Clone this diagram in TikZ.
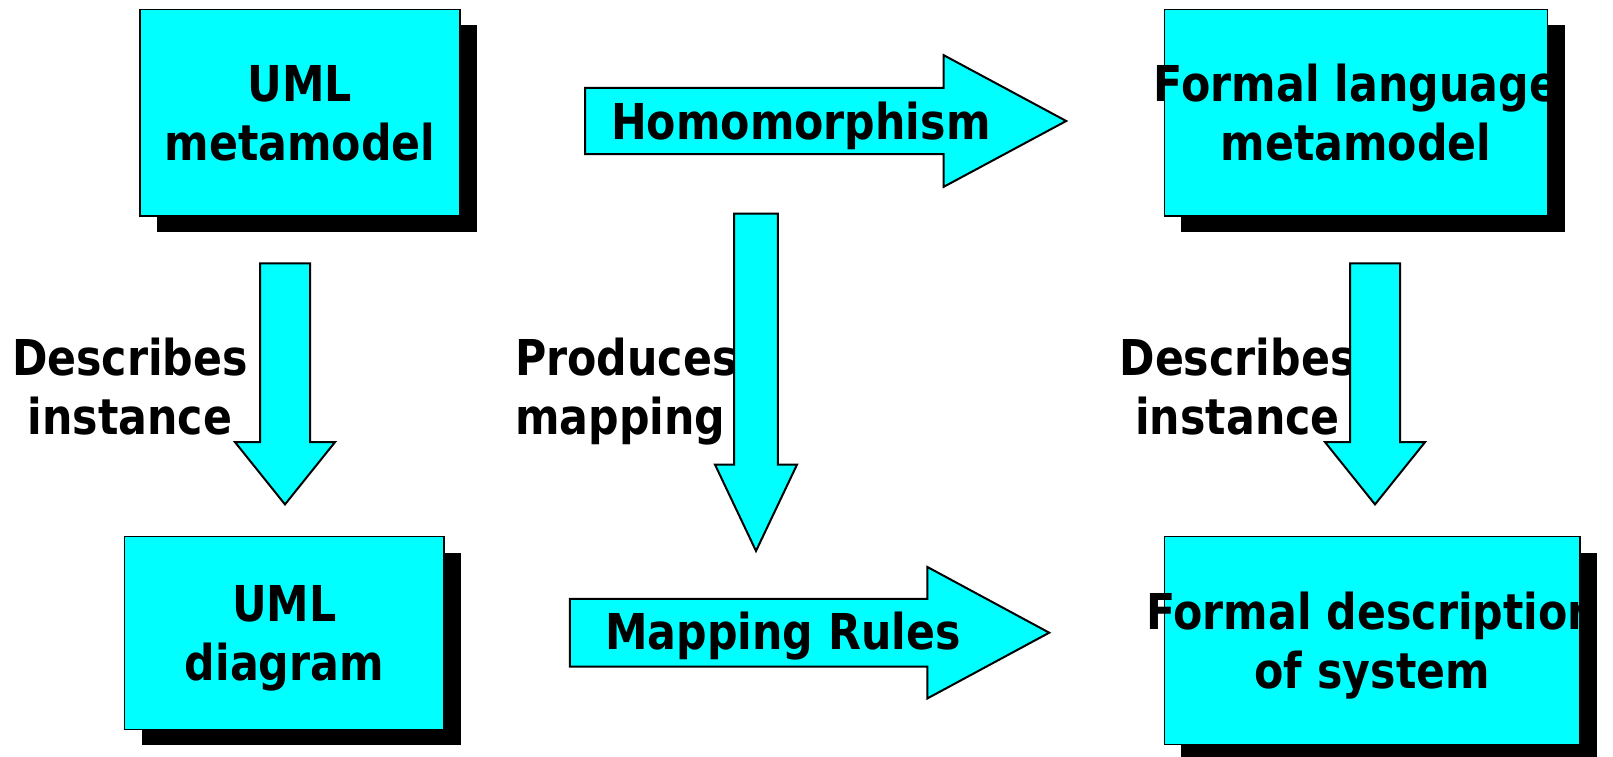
\documentclass[tikz,border=0pt]{standalone}
\usepackage{fontspec}
\newfontfamily\diafont{DejaVu Sans}[FakeStretch=0.865]
\usetikzlibrary{shapes.arrows,shadows}
\definecolor{boxcyan}{RGB}{0,255,255}

\begin{document}
\begin{tikzpicture}[
    x=1pt, y=-1pt,
    box/.style={
        draw,
        line width=1.3pt,
        fill=boxcyan,
        drop shadow={shadow xshift=17pt, shadow yshift=-16pt, fill=black, opacity=1},
        inner sep=0pt,
        align=center,
        text depth=0pt,
        font=\diafont\bfseries\fontsize{49.4}{59}\selectfont
    },
    txt/.style={
        inner sep=0pt,
        align=center,
        text depth=0pt,
        font=\diafont\bfseries\fontsize{49.4}{59}\selectfont
    },
    bigarrow/.style={single arrow, draw, line width=2pt, fill=boxcyan,
        anchor=tip},
    downarrow/.style={bigarrow, shape border rotate=270}
]
\useasboundingbox (0,0) rectangle (1613,757);

% Riga 0: metamodelli
\node[box, minimum width=320pt, minimum height=206.7pt] (umlmeta) at (300,112.7) {UML\\metamodel};
\node[box, minimum width=383.4pt, minimum height=206.7pt] (flmeta) at (1356,112.7) {\makebox[0pt]{Formal language}\\metamodel};

% Riga 1: istanze
\node[box, minimum width=319.5pt, minimum height=192.6pt] (umldiag) at (284.3,633) {UML\\diagram};
\node[box, minimum width=415.7pt, minimum height=207.6pt] (fdesc) at (1372.2,640.5) {\makebox[0pt]{Formal description}\\of system};

% Etichette delle frecce verticali
\node[txt] (descltxt) at (130,385.9) {Describes\\instance};
\node[txt, anchor=west, align=left] (prodtxt) at (515,385.9) {Produces\\mapping};
\node[txt] (descrtxt) at (1237.5,385.9) {Describes\\instance};

% === FRECCE ===

% Orizzontali (inner sep = meta' del fusto)
\node[bigarrow, inner sep=32.15pt, minimum height=481pt, minimum width=129.7pt,
    single arrow head extend=32.7pt, single arrow tip angle=56.5] (homo) at (1068.3,121) {};
\node[bigarrow, inner sep=32.85pt, minimum height=479.3pt, minimum width=129.4pt,
    single arrow head extend=31.85pt, single arrow tip angle=56.7] (maprules) at (1051.3,632.7) {};

% Verticali
\node[downarrow, inner sep=24pt, minimum height=241pt, minimum width=98pt,
    single arrow head extend=25pt, single arrow tip angle=77.5] (descl) at (285,506) {};
\node[downarrow, inner sep=20.85pt, minimum height=337.3pt, minimum width=80pt,
    single arrow head extend=19.15pt, single arrow tip angle=50.8] (produces) at (756,553.3) {};
\node[downarrow, inner sep=24pt, minimum height=241pt, minimum width=98pt,
    single arrow head extend=25pt, single arrow tip angle=77.5] (descr) at (1375,506) {};

% Testo dentro le frecce
\node[txt] (homotxt) at (800.8,120.5) {Homomorphism};
\node[txt] (maptxt) at (782.9,631.2) {Mapping Rules};

\end{tikzpicture}
\end{document}
